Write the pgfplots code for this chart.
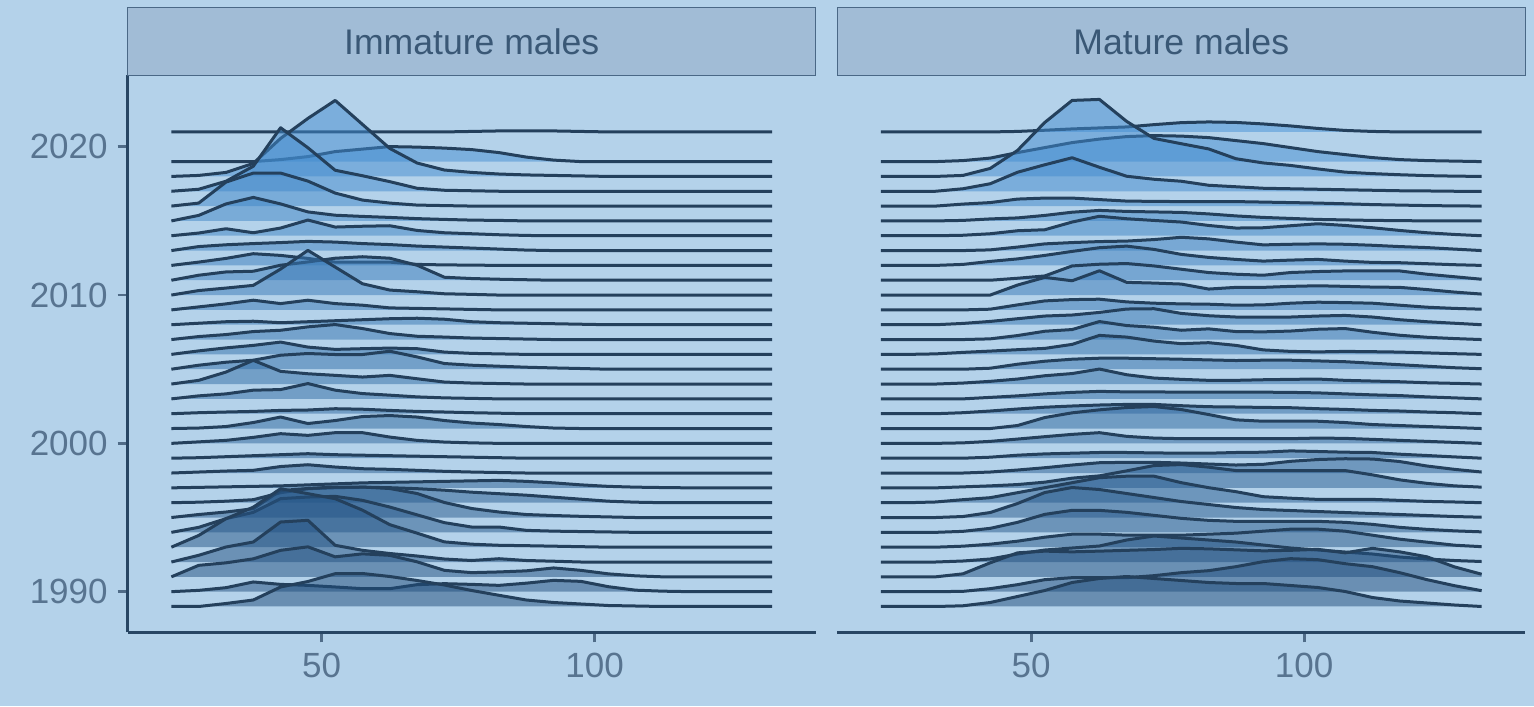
\documentclass[border=0pt]{standalone}
\usepackage{fontspec}
\setmainfont{Liberation Sans}
\usepackage{pgfplots}
\usepackage{pgfplotstable}
\pgfplotsset{compat=1.18}

\definecolor{bgc}{RGB}{180,210,234}
\definecolor{stripc}{RGB}{161,188,214}
\definecolor{stripb}{RGB}{74,104,134}
\definecolor{stript}{RGB}{58,88,118}
\definecolor{tickt}{RGB}{88,116,144}
\definecolor{tickc}{RGB}{80,108,136}
\definecolor{axc}{RGB}{40,70,100}
\definecolor{linec}{RGB}{36,64,92}
\definecolor{lo}{RGB}{32,76,122}
\definecolor{hi}{RGB}{70,146,216}

% one fill colour per survey year, dark (old) to light (recent)
\foreach \yr in {1989,...,2019,2021}{%
  \pgfmathtruncatemacro\p{round((\yr-1989)*100/32)}%
  \xglobal\colorlet{r\yr}{hi!\p!lo}}

% ridge height: density units -> years on the y axis
\newcommand\rscale{0.06743}

% Immature males: one row per year, one column per length bin
\pgfplotstableread{
name c0 c1 c2 c3 c4 c5 c6 c7 c8 c9 c10 c11 c12 c13 c14 c15 c16 c17 c18 c19 c20 c21 c22
x 22.5 27.5 32.5 37.5 42.5 47.5 52.5 57.5 62.5 67.5 72.5 77.5 82.5 87.5 92.5 97.5 102.5 107.5 112.5 117.5 122.5 127.5 132.5
y2021 0 0 0 0 0 0 0 0 0 0 0 0.5 1 1 1 0.5 0 0 0 0 0 0 0
y2019 0 0 0 0 2 5 10 12.5 15 14.5 13.5 12 9 4.5 1.5 0 0 0 0 0 0 0 0
y2018 0 1 4 13 38 58 76 52 28 13.4 6.4 4 2.4 1.5 1 0.5 0 0 0 0 0 0 0
y2017 0 2 10 25 63.5 43.5 21 15.5 9.6 3 1 0.5 0 0 0 0 0 0 0 0 0 0 0
y2016 0 3 24 33 33 25 13 6 3 1 0.5 0 0 0 0 0 0 0 0 0 0 0 0
y2015 0 5.5 17 23.5 17 9 5.7 4.5 3.5 2.3 1.5 0.8 0.5 0 0 0 0 0 0 0 0 0 0
y2014 0 2.7 7 3 7.7 15.7 8.7 9.5 10 5.3 3 2 1 0.3 0 0 0 0 0 0 0 0 0
y2013 0 4 5.8 7 8 9.2 8.5 7 6 4.5 3.5 2.5 1.5 0.5 0 0 0 0 0 0 0 0 0
y2012 0 3.3 7 11.7 10 7 3.3 3.3 3.3 1 0.5 0.3 0 0 0 0 0 0 0 0 0 0 0
y2011 0 5 8.3 9 15 18.3 22 23.5 22 15 3 1.7 1 0.5 0 0 0 0 0 0 0 0 0
y2010 0 4.5 7 9.7 26 44.7 28 11.3 5 3.3 1.3 0.7 0 0 0 0 0 0 0 0 0 0 0
y2009 0 3 6 9.7 6.3 9.7 6.3 4.7 2 1.5 1 0.5 0 0 0 0 0 0 0 0 0 0 0
y2008 0 1.5 3 3.5 2 3 4 5 6 6.5 5.5 3 2 1.5 1 0.5 0 0 0 0 0 0 0
y2007 0 3 5 8 9.3 12.7 15 11 6 3.3 2.5 1.5 1 0.5 0 0 0 0 0 0 0 0 0
y2006 0 3.5 6.5 9 12.3 7.3 5 5.7 6.3 5.7 2.3 1 0.5 0 0 0 0 0 0 0 0 0 0
y2005 0 4 7 9 14 15.7 14.7 14.7 18 12.3 5.7 4 3 2 1.3 0.7 0 0 0 0 0 0 0
y2004 0 3.7 12 23.7 12.7 10.3 8.7 7 8.7 5.3 2 1 0.5 0 0 0 0 0 0 0 0 0 0
y2003 0 3 5 8.7 9.3 15.3 8.7 5.3 3.7 2 1 0.5 0 0 0 0 0 0 0 0 0 0 0
y2002 0 1 1.7 2.3 3.3 3.7 5 4.5 3.3 2.3 1.7 1 0.5 0 0 0 0 0 0 0 0 0 0
y2001 0 0.5 2 6 11.5 5 8 12 13 11.5 8 5.5 4 2 0.5 0 0 0 0 0 0 0 0
y2000 0 1.5 3 6 9.7 8 10.7 10.7 6.3 3 1.3 0.5 0 0 0 0 0 0 0 0 0 0 0
y1999 0 0.5 1.5 2.5 3.5 4.5 3.5 3 2.5 2 1.5 1 0.5 0 0 0 0 0 0 0 0 0 0
y1998 0 1 2 2.7 6.5 8.3 6 4.3 3.7 2.7 1.7 1 0.5 0 0 0 0 0 0 0 0 0 0
y1997 0 0.5 1 1.5 2 3 4 5 5.5 6 6.5 7 7.5 6.5 5 3 1.5 0.7 0.3 0 0 0 0
y1996 0 0.5 1.5 3 10 14 15 15.5 15 14 12.5 10.5 9 7.5 5.5 3.5 1.5 0.5 0 0 0 0 0
y1995 0 3 5.5 8.8 27 29 30.5 30.5 29 24 15 9 5.5 3 2 1.2 0.6 0 0 0 0 0 0
y1994 0 5 13.7 20 33.7 35.3 36 32 25.3 17.5 9.7 5.3 5.3 2 1.2 0.8 0.4 0 0 0 0 0 0
y1993 0 11.7 28.5 40 58.5 53.5 48.5 37 22.5 14 5.3 3 1.9 1.5 1 0.5 0 0 0 0 0 0 0
y1992 0 6.7 15 20 40 41.7 16.7 11.7 8.5 6 3 1.5 3.3 1.5 0.8 0 0 0 0 0 0 0 0
y1991 0 11.5 14 18 26.5 30 20 23 21.5 15 6.5 4.2 4.9 6 8.9 6.5 3 1 0 0 0 0 0
y1990 0 1.3 4 9.7 7.3 6.3 4.7 3 3 7 8 7.3 6.3 8.5 11.3 10.3 5 1.5 0.5 0 0 0 0
y1989 0 0 3 6.5 19.5 25 32.8 33 30 26 21.5 16 11.2 6.5 4 2.5 1 0.5 0 0 0 0 0
}\rawL

% Mature males
\pgfplotstableread{
name c0 c1 c2 c3 c4 c5 c6 c7 c8 c9 c10 c11 c12 c13 c14 c15 c16 c17 c18 c19 c20 c21 c22
x 22.5 27.5 32.5 37.5 42.5 47.5 52.5 57.5 62.5 67.5 72.5 77.5 82.5 87.5 92.5 97.5 102.5 107.5 112.5 117.5 122.5 127.5 132.5
y2021 0 0 0 0 0 0.5 1.7 3 4 5 7.3 9.3 10 9.5 8 6 3.5 1.5 0.5 0 0 0 0
y2019 0 0 0 1 3.5 9 14 19 22.5 25 26 25.5 24 21 18 14 10 7 4 2 1 0.5 0
y2018 0 0 0 1 8 26 54 76 77 55 38 32.7 27.5 17.7 13.5 11 7.5 4.3 2.8 1.7 0.8 0.3 0
y2017 0 0 0 2.5 7.5 19 26.5 33.5 24 15 12 10 6 4.5 3 2.5 2 1.5 1 0.5 0.3 0 0
y2016 0 0 0 2 3.5 7 8 8 6.5 5 4.7 4.5 4.5 4.5 4 3.5 3 2.3 1.5 1 0.5 0.2 0
y2015 0 0 0 0.5 2 3 5.5 8.7 10.5 9.5 9 8.5 7 5 3.5 2.5 1.5 1 0.5 0.3 0 0 0
y2014 0 0 0 0.5 2 5 6 13.7 19.5 17 15.3 13.7 10.3 7.7 8 10 12 10.3 8 5.3 3 1.3 0
y2013 0 0 0 0 0.7 3.5 6.7 8 9 9.5 11 13.3 11.7 8.5 5.7 6.3 6.7 6.3 5.3 4 3 1.5 0
y2012 0 0 0 1 4 6.5 10 14 17.7 19.3 16 11 8 6 4.3 5.3 6 4.3 3 2.7 1.7 0.7 0
y2011 0 0 0 0 0 2 4.3 14.3 16 16.7 14.3 11 7.7 6 5 7.7 8.7 9.3 9.3 9.3 6 3.5 1
y2010 0 0 0 0 0 10 17.7 14.3 24.3 12.7 12 11 6 7.7 7.7 8.7 9.3 8.7 8 7.7 5.5 3 1
y2009 0 0 0 0 0.7 5 9 10.3 10.7 8 6.7 6 5.7 4.7 5 6.7 7.7 7.3 6.7 4.7 2.7 1.5 0.7
y2008 0 0 0 1.3 3.3 6 8.7 9.7 12.3 15.7 16 11.3 9 7.7 7.7 7.7 8.7 9.3 7.7 5 3 1.5 0
y2007 0 0 0 0 0.7 4 8.3 10 18 14 12.3 9.3 10.7 8 7.7 8.5 10.3 11 7.3 4.3 2.3 1 0
y2006 0 0 0.5 2 3.3 4.7 6 10 19 17.3 13.3 10.7 11.7 9 4.5 3 2.5 3 2.7 2.3 1.5 0.7 0
y2005 0 0 0 0 1 5 8 10 11 11 10.5 10 9.3 8.7 9 9 8.3 7.5 6 4.5 3 1.5 0.5
y2004 0 0 0 1 2.7 5 8.3 10.5 15 9.3 6 4.7 3.7 3.7 4.3 4.7 5 3.7 3 2.3 1.3 0.7 0
y2003 0 0 0 0 1.5 3 5 6.5 7.5 7 7 6.7 6.7 6.7 6.7 6.5 6 5 4 3.3 2 1 0
y2002 0 0 0 1 2.7 4.7 6.5 7.7 8.7 9.3 9.3 8 7 6.7 6.3 6 5 4.3 3.3 2.7 1.7 1 0
y2001 0 0 0 0 0 3 11 15.7 18.7 21 22 19 14 8.7 7.3 7.3 7.3 6 4 3 2 1 0
y2000 0 0 0 0.5 2 4.3 6.7 9 10.7 7 5.3 4.7 4.7 4.7 4.7 4.7 5.3 5 4 3 2 1 0
y1999 0 0 0 0 1 3 4.3 5 5.7 5.7 5.3 5 5 5.7 6 7.3 6.7 6 5.7 4 2.7 1.3 0
y1998 0 0 0 0 1 3 5.3 8 10.3 10.7 10.7 10 9 8 8.7 11.7 13.5 14.3 14 11.5 7 3.7 1
y1997 0 0 0 1 2 3.3 5.7 9.7 12 17 22.3 23.3 20.7 17.3 17.3 17.3 17.3 17.3 13 8 4.5 2 0.7
y1996 0 0 0.7 3 5 10 15 20 25 26.5 26.5 20 15 11 6 4.5 3.3 3.3 3.3 2.3 1.3 0.7 0
y1995 0 0 0 1 5 14 25 30 28 24 20 16 13 10 8 7 6 5 4 3 2 1 0.3
y1994 0 0 0 1 4 10 18 22 22 20 17 14 12 11 11 11 11 10 8 5 3 1.5 0.5
y1993 0 0 0 1 3 6 10 13 13 12 12 12 13 14 16 18 18 16 12 8 5 2 0.5
y1992 0 0 0 1 3 8 12 14 16 22 26 24 22 20 17 14 12 10 8 5 3 1.5 0.5
y1991 0 0 0 3 14 24 25.7 25 25.7 26.5 27.3 28.5 28 27 26 26.5 27.5 24 28.5 25 20 10 2.6
y1990 0 0 0 0.3 3 7 12 14 14 14 16 19 21 25 30 33 32 28 25 19 12 6 1
y1989 0 0 0 0.7 4 10 16 24 28 30 28 26 24 23 23 21 19 15 9 5.5 3.5 1.5 0
}\rawR

\pgfplotstabletranspose[colnames from=name]\tabL\rawL
\pgfplotstabletranspose[colnames from=name]\tabR\rawR

\pgfplotsset{
  ridgeaxis/.style={
    scale only axis, width=344pt, height=278.5pt, anchor=south west,
    xmin=14.5, xmax=140.5, ymin=1987.26, ymax=2024.82,
    axis x line*=bottom,
    axis line style={axc, line width=1.35pt, -},
    every outer x axis line/.append style={-},
    every outer y axis line/.append style={-},
    xtick={50,100}, xticklabels={50,100},
    tick align=outside, major tick length=5pt,
    tick style={tickc, line width=1.35pt},
    tick label style={font=\fontsize{17.5}{20}\selectfont, text=tickt},
    xticklabel style={yshift=-2pt},
    yticklabel style={xshift=-1.5pt},
  },
  ridgefill/.style={draw=none, fill=#1, fill opacity=0.5},
  ridgeline/.style={linec, line width=1.5pt, line join=round},
}

\begin{document}
\begin{tikzpicture}
\path[use as bounding box, fill=bgc] (0pt,0pt) rectangle (767pt,353pt);

\begin{axis}[ridgeaxis, at={(63.85pt,36.85pt)},
  axis y line*=left,
  ytick={1990,2000,2010,2020}, yticklabels={1990,2000,2010,2020}]
\pgfplotsinvokeforeach{2021,2019,2018,...,1989}{
  \addplot[ridgefill=r#1] table[x=x, y expr={#1+\thisrow{y#1}*\rscale}] {\tabL}
    -- (axis cs:132.5,#1) -- (axis cs:22.5,#1) -- cycle;
  \addplot[ridgeline] table[x=x, y expr={#1+\thisrow{y#1}*\rscale}] {\tabL};
}
\end{axis}

\begin{axis}[ridgeaxis, at={(418.65pt,36.85pt)}, hide y axis]
\pgfplotsinvokeforeach{2021,2019,2018,...,1989}{
  \addplot[ridgefill=r#1] table[x=x, y expr={#1+\thisrow{y#1}*\rscale}] {\tabR}
    -- (axis cs:132.5,#1) -- (axis cs:22.5,#1) -- cycle;
  \addplot[ridgeline] table[x=x, y expr={#1+\thisrow{y#1}*\rscale}] {\tabR};
}
\end{axis}

% facet strips
\foreach \sx/\st in {63.85/Immature males, 418.65/Mature males}{
  \draw[stripb, fill=stripc, line width=0.75pt] (\sx pt,315.35pt) rectangle ++(344pt,34pt);
  \node[text=stript, font=\fontsize{17.8}{21}\selectfont, inner sep=0pt]
    at (\sx pt+172pt,332.35pt) {\st};
}
\end{tikzpicture}
\end{document}
